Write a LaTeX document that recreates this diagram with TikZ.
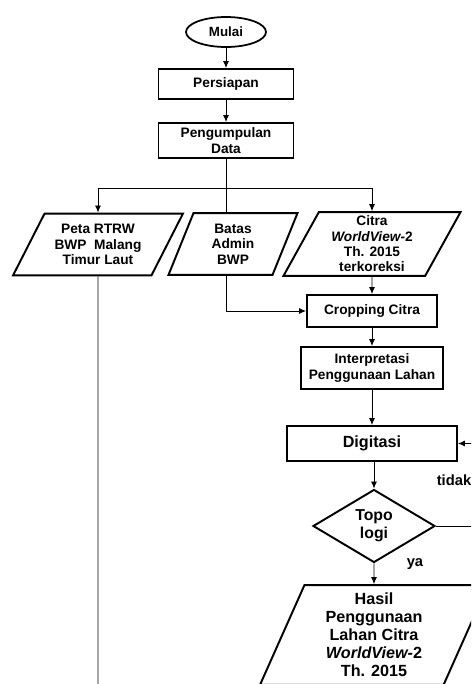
\documentclass[tikz,border=0pt]{standalone}
\usepackage{fontspec}
\setmainfont{Liberation Sans}
\usetikzlibrary{shapes.geometric,arrows.meta}

\begin{document}
\begin{tikzpicture}[x=0.02cm,y=-0.02cm]
  \tikzset{
    box/.style={draw,rectangle,line width=1.1pt,align=center,inner sep=0pt,
      font=\fontsize{7.8}{8.8}\selectfont\bfseries},
    start/.style={draw,ellipse,line width=1pt,inner sep=0pt,minimum width=1.6cm,
      minimum height=0.6cm,font=\fontsize{7.6}{8.8}\selectfont\bfseries},
    io/.style={draw,trapezium,trapezium left angle=#1,trapezium right angle=180-#1,
      trapezium stretches body,line width=1.1pt,align=center,inner xsep=0pt,
      font=\fontsize{7.8}{8.7}\selectfont\bfseries},
    decision/.style={draw,diamond,line width=1.1pt,align=center,inner sep=0pt,
      minimum width=2.44cm,minimum height=1.46cm,font=\fontsize{9}{10.4}\selectfont\bfseries},
    big/.style={font=\fontsize{9.2}{10.3}\selectfont\bfseries},
    lbl/.style={font=\fontsize{8.4}{10}\selectfont\bfseries},
    arr/.style={-{Latex[length=4pt,width=3.4pt]},line width=0.5pt}
  }
  \useasboundingbox (0,0) rectangle (471,684);
  \clip (0,0) rectangle (471,684);

  % alur utama
  \node[start] (mulai) at (226,32) {Mulai};
  \node[box,minimum width=2.7cm,minimum height=0.6cm] (siap) at (226,84) {Persiapan};
  \node[box,minimum width=2.7cm,minimum height=0.7cm] (data) at (226,140.5) {Pengumpulan\\Data};

  % data masukan
  \node[io=63,inner ysep=6.2pt,minimum width=3.4cm,minimum height=1.22cm] (peta) at (98,244.5) {Peta RTRW\\BWP\ \ Malang\\Timur Laut};
  \node[io=68,inner ysep=6.2pt,minimum width=2.58cm,minimum height=1.22cm] (batas) at (233,244) {Batas\\Admin\\BWP};
  \node[io=61,inner ysep=2.2pt,minimum width=3.54cm,minimum height=1.24cm] (citra) at (372,244) {Citra\\\textit{WorldView-}2\\Th. 2015\\terkoreksi};

  % pengolahan
  \node[box,minimum width=2.6cm,minimum height=0.64cm] (crop) at (372,311) {Cropping Citra};
  \node[box,minimum width=2.84cm,minimum height=0.84cm] (interp) at (372,368) {Interpretasi\\Penggunaan Lahan};
  \node[box,big,minimum width=3.4cm,minimum height=0.7cm] (digit) at (372,443.5) {Digitasi};
  \node[decision] (topo) at (374,526) {Topo\\logi};
  \node[io=66,big,inner ysep=4.4pt,minimum width=4.56cm,minimum height=1.96cm] (hasil) at (374,635) {Hasil\\Penggunaan\\Lahan Citra\\\textit{WorldView-}2\\Th. 2015};

  \node[lbl] (tidak) at (454,480) {tidak};
  \node[lbl] (ya) at (415,564) {ya};

  \coordinate (split) at (226,188);
  \coordinate (petaend) at (98,720);

  \draw[arr] (mulai) -- (siap);
  \draw[arr] (siap) -- (data);
  \draw[line width=0.5pt] (data.south) -- (data.south |- batas.north);
  \draw[arr] (split) -| (peta.north);
  \draw[arr] (split) -| (citra.north);
  \draw[arr] (data.south |- batas.south) |- (crop.west);
  \draw[line width=0.5pt] (peta) -- (petaend);
  \draw[arr] (citra) -- (crop);
  \draw[arr] (crop) -- (interp);
  \draw[arr] (interp) -- (digit);
  \draw[arr] (digit.south -| topo) -- (topo);
  \draw[arr] (topo) -- (hasil);
  \draw[arr] (topo.east) -- ++(60,0) |- (digit.east);
\end{tikzpicture}
\end{document}
